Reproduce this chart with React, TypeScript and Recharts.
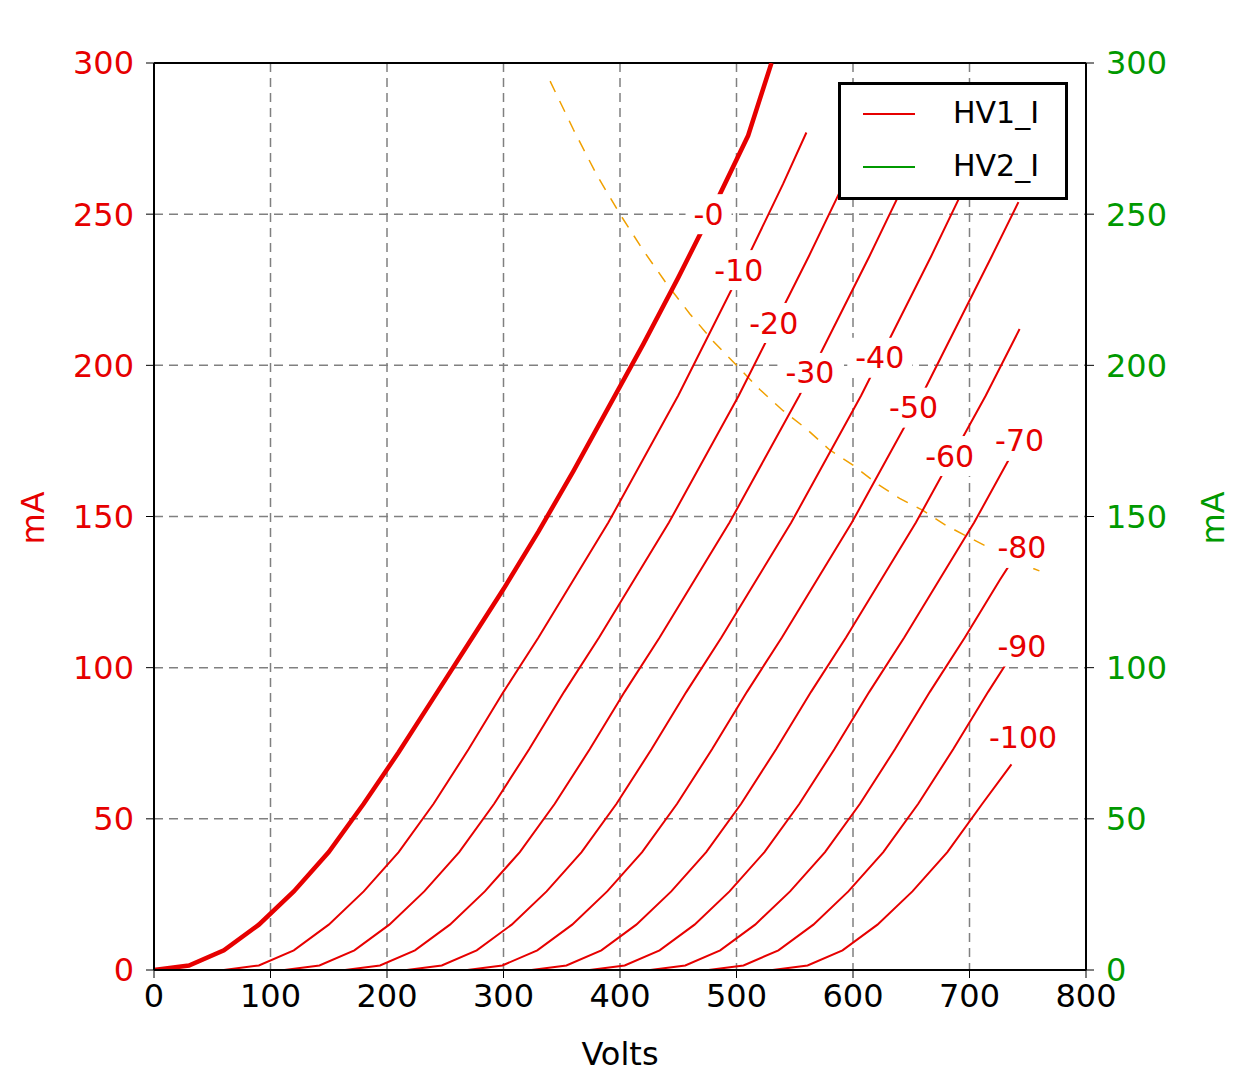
import React from "react";
import { LineChart, Line, XAxis, YAxis, CartesianGrid, ReferenceDot, ReferenceLine } from "recharts";

// plate curves, one pair of arrays per grid voltage (Volts, mA)
const g0V = [0, 30, 60, 90, 120, 150, 180, 210, 240, 270, 300, 330, 360, 390, 420, 450, 480, 510, 530];
const g0I = [0, 1.5, 6.5, 15, 26, 39, 55, 72, 90, 108, 126, 145, 165, 186, 207, 229, 252, 276, 300];
const g10V = [60, 90, 120, 150, 180, 210, 240, 270, 300, 330, 360, 390, 420, 450, 480, 510, 540, 560];
const g10I = [0, 1.5, 6.5, 15, 26, 39, 55, 73, 92, 110, 129, 148, 169, 190, 213, 236, 260, 277];
const g20V = [112, 142, 172, 202, 232, 262, 292, 322, 352, 382, 412, 442, 472, 502, 532, 562, 592, 612];
const g20I = [0, 1.5, 6.5, 15, 26, 39, 55, 73, 92, 110, 129, 148, 169, 190, 213, 236, 260, 277];
const g30V = [164, 194, 224, 254, 284, 314, 344, 374, 404, 434, 464, 494, 524, 554, 584, 614, 644, 664];
const g30I = [0, 1.5, 6.5, 15, 26, 39, 55, 73, 92, 110, 129, 148, 169, 190, 213, 236, 260, 277];
const g40V = [217, 247, 277, 307, 337, 367, 397, 427, 457, 487, 517, 547, 577, 607, 637, 667, 697, 717];
const g40I = [0, 1.5, 6.5, 15, 26, 39, 55, 73, 92, 110, 129, 148, 169, 190, 213, 236, 260, 277];
const g50V = [269, 299, 329, 359, 389, 419, 449, 479, 509, 539, 569, 599, 629, 659, 689, 719, 742];
const g50I = [0, 1.5, 6.5, 15, 26, 39, 55, 73, 92, 110, 129, 148, 169, 190, 213, 236, 254];
const g60V = [324, 354, 384, 414, 444, 474, 504, 534, 564, 594, 624, 654, 684, 714, 743];
const g60I = [0, 1.5, 6.5, 15, 26, 39, 55, 73, 92, 110, 129, 148, 169, 190, 212];
const g70V = [374, 404, 434, 464, 494, 524, 554, 584, 614, 644, 674, 704, 734];
const g70I = [0, 1.5, 6.5, 15, 26, 39, 55, 73, 92, 110, 129, 148, 169];
const g80V = [426, 456, 486, 516, 546, 576, 606, 636, 666, 696, 726, 736];
const g80I = [0, 1.5, 6.5, 15, 26, 39, 55, 73, 92, 110, 129, 135];
const g90V = [476, 506, 536, 566, 596, 626, 656, 686, 716, 736];
const g90I = [0, 1.5, 6.5, 15, 26, 39, 55, 73, 92, 104];
const g100V = [531, 561, 591, 621, 651, 681, 711, 736];
const g100I = [0, 1.5, 6.5, 15, 26, 39, 55, 68];

const hv2V = [0, 100, 200, 300, 400, 500, 590];
const hv2I = [0, 0, 0, 0, 0, 0, 0];

// 100 W plate dissipation
const pdV = [340, 360, 380, 400, 420, 440, 460, 480, 500, 520, 540, 560, 580, 600, 620, 640, 660, 680, 700, 720, 740, 760];
const pdI = [294, 278, 263, 250, 238, 227, 217, 208, 200, 192, 185, 179, 172, 167, 161, 156, 152, 147, 143, 139, 135, 132];

const labelNames = ["-0", "-10", "-20", "-30", "-40", "-50", "-60", "-70", "-80", "-90", "-100"];
const labelV = [476, 502, 532, 563, 623, 652, 683, 743, 745, 745, 746];
const labelI = [250, 231.5, 214, 197.5, 202.5, 186, 170, 175, 139.6, 107, 77];

const xTicks = [0, 100, 200, 300, 400, 500, 600, 700, 800];
const yTicks = [0, 50, 100, 150, 200, 250, 300];

const zip = (v: number[], i: number[]) => v.map((x, k) => ({ v: x, i: i[k] }));
const curves = [
  zip(g0V, g0I), zip(g10V, g10I), zip(g20V, g20I), zip(g30V, g30I), zip(g40V, g40I), zip(g50V, g50I),
  zip(g60V, g60I), zip(g70V, g70I), zip(g80V, g80I), zip(g90V, g90I), zip(g100V, g100I),
];

const RED = "#e60000";
const GREEN = "#009900";
const FONT = "DejaVu Sans";

const CurveLabel = (props: any) => {
  const { cx, cy, text } = props;
  const w = text.length * 19 + 8;
  return (
    <g>
      <rect x={cx - w / 2} y={cy - 20} width={w} height={40} fill="#fff" />
      <text x={cx} y={cy} fill={RED} fontSize={30} fontFamily={FONT} textAnchor="middle" dominantBaseline="central">
        {text}
      </text>
    </g>
  );
};

export default function App() {
  return (
    <div style={{ position: "relative", width: 1235, height: 1080, margin: -8, background: "#fff" }}>
      <LineChart width={1235} height={1080} margin={{ top: 63, right: 0, bottom: 0, left: 0 }}>
        <CartesianGrid yAxisId="l" stroke="#808080" strokeDasharray="9 6" strokeWidth={1.5} />
        <XAxis
          type="number" dataKey="v" domain={[0, 800]} ticks={xTicks} height={110}
          tick={{ fill: "#000", fontSize: 32, fontFamily: FONT }} tickMargin={6} tickSize={8}
          axisLine={{ stroke: "#000", strokeWidth: 2 }} tickLine={{ stroke: "#000" }}
        />
        <YAxis
          yAxisId="l" type="number" domain={[0, 300]} ticks={yTicks} width={154} allowDataOverflow
          tick={{ fill: RED, fontSize: 32, fontFamily: FONT }} tickMargin={12} tickSize={8}
          axisLine={{ stroke: "#000", strokeWidth: 2 }} tickLine={{ stroke: "#000" }}
        />
        <YAxis
          yAxisId="r" orientation="right" type="number" domain={[0, 300]} ticks={yTicks} width={149} allowDataOverflow
          tick={{ fill: GREEN, fontSize: 32, fontFamily: FONT }} tickMargin={12} tickSize={8}
          axisLine={{ stroke: "#000", strokeWidth: 2 }} tickLine={{ stroke: "#000" }}
        />
        <ReferenceLine yAxisId="l" y={300} stroke="#000" strokeWidth={2} />
        <Line yAxisId="l" data={zip(pdV, pdI)} dataKey="i" stroke="#f0a000" strokeWidth={1.5} strokeDasharray="12 10"
          dot={false} isAnimationActive={false} />
        {curves.map((d, k) => (
          <Line key={k} yAxisId="l" data={d} dataKey="i" stroke={RED} strokeWidth={k === 0 ? 4.5 : 2}
            dot={false} isAnimationActive={false} />
        ))}
        <Line yAxisId="r" data={zip(hv2V, hv2I)} dataKey="i" stroke={GREEN} strokeWidth={2} dot={false} isAnimationActive={false} />
        {labelNames.map((t, k) => (
          <ReferenceDot key={t} yAxisId="l" x={labelV[k]} y={labelI[k]} r={0}
            shape={(p: any) => <CurveLabel {...p} text={t} />} />
        ))}
        <text x={620} y={1054} fill="#000" fontSize={32} fontFamily={FONT} textAnchor="middle" dominantBaseline="central">Volts</text>
        <text x={33} y={518} fill={RED} fontSize={32} fontFamily={FONT} textAnchor="middle" dominantBaseline="central"
          transform="rotate(-90 33 518)">mA</text>
        <text x={1213} y={518} fill={GREEN} fontSize={32} fontFamily={FONT} textAnchor="middle" dominantBaseline="central"
          transform="rotate(-90 1213 518)">mA</text>
      </LineChart>
      <div style={{
        position: "absolute", left: 838, top: 82, width: 230, height: 118, border: "3px solid #000",
        boxSizing: "border-box", background: "#fff", fontFamily: FONT, fontSize: 30,
      }}>
        <div style={{ position: "absolute", left: 22, top: 28, width: 52, height: 2, background: RED }} />
        <div style={{ position: "absolute", left: 112, top: 10, lineHeight: "36px" }}>HV1_I</div>
        <div style={{ position: "absolute", left: 22, top: 81, width: 52, height: 2, background: GREEN }} />
        <div style={{ position: "absolute", left: 112, top: 63, lineHeight: "36px" }}>HV2_I</div>
      </div>
    </div>
  );
}
